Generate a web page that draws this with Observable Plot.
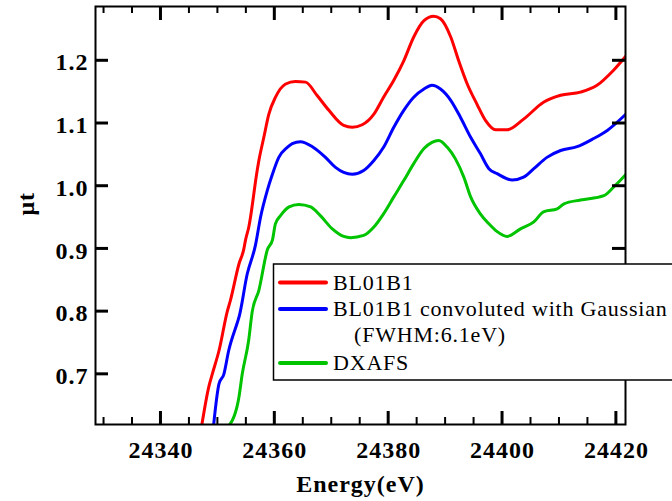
<!DOCTYPE html>
<html><head><meta charset="utf-8">
<script src="https://cdn.jsdelivr.net/npm/d3@7"></script>
<script src="https://cdn.jsdelivr.net/npm/@observablehq/plot@0.6"></script>
<style>html,body{margin:0;padding:0;background:#fff;overflow:hidden}</style>
</head><body><div id="chart"></div>
<script>
// ---- data ----
const seriesNames = ["BL01B1", "BL01B1 convoluted with Gaussian", "DXAFS"];
const legendSubLabel = "(FWHM:6.1eV)";
const seriesColors = ["#ff0000", "#0000ff", "#00c400"];

const bl01b1Energy = [24347.1,24348.4,24349.0,24350.2,24351.64,24352.2,24353.7,24354.56,24354.85,24355.43,24356.9,24357.2,24358.07,24358.95,24360.12,24361.9,24363.6,24365.4,24367.4,24369.5,24372.1,24373.6,24375.35,24377.4,24379.1,24380.9,24382.65,24384.4,24386.2,24387.9,24389.1,24390.9,24392.3,24393.8,24395.5,24397.0,24398.8,24400.8,24403.7,24407.2,24410.2,24413.7,24416.6,24419.5,24421.8];
const bl01b1Mu     = [0.615,0.680,0.700,0.738,0.800,0.818,0.876,0.900,0.914,0.935,1.025,1.041,1.078,1.115,1.142,1.163,1.167,1.166,1.145,1.121,1.097,1.094,1.098,1.115,1.142,1.169,1.200,1.238,1.264,1.271,1.267,1.238,1.200,1.163,1.131,1.105,1.090,1.090,1.107,1.134,1.145,1.150,1.161,1.185,1.209];

const convEnergy = [24349.2,24350.2,24351.04,24351.9,24353.5,24353.7,24355.15,24356.6,24357.5,24358.67,24359.5,24360.7,24362.2,24363.06,24364.5,24366.6,24368.9,24370.66,24372.1,24373.6,24375.6,24377.4,24379.1,24380.9,24382.65,24384.4,24386.2,24387.6,24389.1,24390.9,24392.6,24394.4,24396.1,24397.6,24399.06,24401.7,24403.7,24405.5,24407.8,24410.2,24413.1,24416.0,24418.4,24421.8];
const convMu     = [0.615,0.685,0.700,0.738,0.785,0.791,0.860,0.906,0.951,0.993,1.017,1.046,1.062,1.068,1.071,1.063,1.046,1.030,1.022,1.019,1.025,1.041,1.062,1.094,1.121,1.142,1.155,1.161,1.155,1.137,1.110,1.078,1.052,1.028,1.020,1.010,1.0145,1.028,1.046,1.057,1.063,1.076,1.089,1.116];

const dxafsEnergy = [24351.6,24353.4,24353.7,24354.27,24355.4,24356.03,24357.2,24358.7,24359.6,24360.1,24361.0,24362.5,24364.2,24366.3,24368.0,24370.1,24372.1,24373.3,24375.6,24377.4,24379.1,24380.9,24382.65,24384.4,24386.2,24387.6,24388.8,24390.3,24391.7,24393.2,24394.4,24396.1,24397.6,24399.0,24400.8,24403.15,24405.5,24407.2,24409.6,24410.8,24413.7,24417.8,24419.5,24421.8];
const dxafsMu     = [0.615,0.650,0.664,0.700,0.754,0.800,0.834,0.899,0.915,0.940,0.953,0.967,0.971,0.967,0.953,0.932,0.920,0.918,0.9215,0.935,0.956,0.983,1.009,1.036,1.060,1.070,1.073,1.062,1.044,1.0145,0.983,0.956,0.940,0.928,0.920,0.932,0.943,0.959,0.964,0.972,0.978,0.985,0.9985,1.020];

const xTickValues = [24340, 24360, 24380, 24400, 24420];
const xMinorValues = [24330, 24335, 24345, 24350, 24355, 24365, 24370, 24375, 24385, 24390, 24395, 24405, 24410, 24415];
const yTickValues = [0.7, 0.8, 0.9, 1.0, 1.1, 1.2];
const xLabel = "Energy(eV)";
const yLabel = "μt";

// ---- build ----
const toRows = (E, M, name) => E.map((e, i) => ({energy: e, mu: M[i], series: name}));
const rows = [
  ...toRows(bl01b1Energy, bl01b1Mu, seriesNames[0]),
  ...toRows(convEnergy, convMu, seriesNames[1]),
  ...toRows(dxafsEnergy, dxafsMu, seriesNames[2])
];

const W = 672, H = 501;
const mL = 95, mR = 47, mT = 6, mB = 77;
const FONT = "'Liberation Serif', 'Times New Roman', serif";
const textStyle = {fontSize: 24, fontWeight: "bold", fontFamily: FONT, fill: "black"};

const plot = Plot.plot({
  width: W, height: H,
  marginLeft: mL, marginRight: mR, marginTop: mT, marginBottom: mB,
  style: {background: "white", fontFamily: FONT, overflow: "hidden"},
  x: {domain: [24328.5, 24421.6], axis: null},
  y: {domain: [0.620, 1.2866], axis: null},
  color: {domain: seriesNames, range: seriesColors},
  marks: [
    Plot.line(rows, {x: "energy", y: "mu", z: "series", stroke: "series", strokeWidth: 3, clip: true, curve: "monotone-x"}),
    Plot.frame({stroke: "black", strokeWidth: 2}),
    // tick labels
    Plot.text(xTickValues, {x: d => d, frameAnchor: "bottom", dy: 26, text: d => String(d),
      ...textStyle, lineAnchor: "middle", textAnchor: "middle"}),
    Plot.text(yTickValues, {y: d => d, frameAnchor: "left", dx: -7, dy: 2, text: d => d.toFixed(1),
      ...textStyle, textAnchor: "end", lineAnchor: "middle"}),
    // axis labels
    Plot.text([xLabel], {frameAnchor: "bottom", dy: 60, text: d => d, ...textStyle, lineAnchor: "middle"}),
    Plot.text([yLabel], {frameAnchor: "left", dx: -69, text: d => d, rotate: -90, ...textStyle, lineAnchor: "middle"})
  ]
});

d3.select(plot).selectAll("text").style("letter-spacing", "1px");

// ---- inward ticks on all four sides, positioned with Plot's own scales ----
const sxo = plot.scale("x"), syo = plot.scale("y");
const sx = d3.scaleLinear(sxo.domain, sxo.range);
const sy = d3.scaleLinear(syo.domain, syo.range);
const fx0 = Math.min(...sxo.range), fx1 = Math.max(...sxo.range);
const fy0 = Math.max(...syo.range), fy1 = Math.min(...syo.range);
const tg = d3.select(plot).append("g").attr("class", "ticks");
const tick = (x1, y1, x2, y2, sw) => {
  tg.append("line").attr("x1", x1).attr("y1", y1).attr("x2", x2).attr("y2", y2)
    .attr("stroke", "black").attr("stroke-width", sw)
    .style("stroke", "#000").style("stroke-width", sw + "px").style("stroke-opacity", 1)
    .style("visibility", "visible").style("display", "inline");
};
xTickValues.forEach(v => { const x = sx(v); tick(x, fy0, x, fy0 - 13, 3); tick(x, fy1, x, fy1 + 14, 3); });
xMinorValues.forEach(v => { const x = sx(v); tick(x, fy0, x, fy0 - 7, 2); tick(x, fy1, x, fy1 + 7, 2); });
yTickValues.forEach(v => { const y = sy(v); tick(fx0, y, fx0 + 13, y, 3); tick(fx1, y, fx1 - 13, y, 3); });

// ---- legend (drawn in the same SVG) ----
const lg = d3.select(plot).append("g").attr("class", "legend").attr("text-anchor", "start");
lg.append("rect").attr("x", 273.5).attr("y", 264).attr("width", 400).attr("height", 116)
  .attr("fill", "white").attr("stroke", "black").attr("stroke-width", 1.5);
const legendItems = [
  {label: seriesNames[0], color: seriesColors[0], ly: 282.5, ty: 289.5},
  {label: seriesNames[1], color: seriesColors[1], ly: 309, ty: 316},
  {label: seriesNames[2], color: seriesColors[2], ly: 363, ty: 369.5}
];
legendItems.forEach(it => {
  lg.append("line").attr("x1", 280).attr("x2", 326).attr("y1", it.ly).attr("y2", it.ly)
    .attr("stroke", it.color).attr("stroke-width", 4).attr("stroke-linecap", "round");
  lg.append("text").attr("x", 333).attr("y", it.ty).attr("text-anchor", "start").text(it.label)
    .style("font-family", FONT).style("font-size", "22px").style("letter-spacing", "0.8px").attr("fill", "black");
});
lg.append("text").attr("x", 354).attr("y", 342).attr("text-anchor", "start").text(legendSubLabel)
  .style("font-family", FONT).style("font-size", "22px").style("letter-spacing", "0.8px").attr("fill", "black");

document.getElementById("chart").appendChild(plot);
</script>
</body></html>
